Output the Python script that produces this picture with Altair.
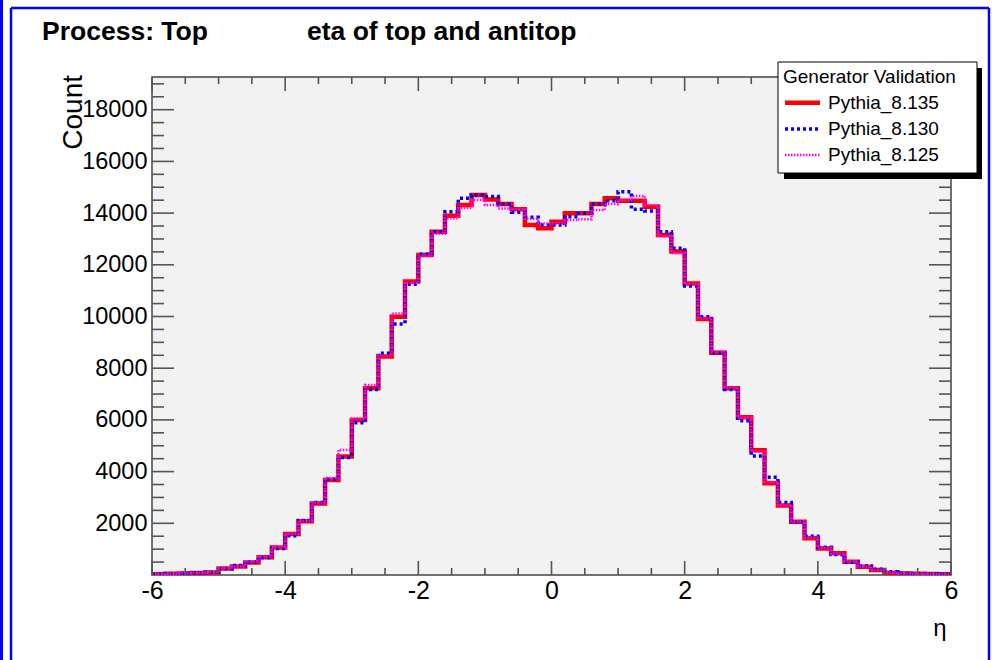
import altair as alt
import pandas as pd

# Lower edges of the 0.2-wide eta bins
bin_low = [
    -6.0, -5.8, -5.6, -5.4, -5.2, -5.0, -4.8, -4.6, -4.4, -4.2,
    -4.0, -3.8, -3.6, -3.4, -3.2, -3.0, -2.8, -2.6, -2.4, -2.2,
    -2.0, -1.8, -1.6, -1.4, -1.2, -1.0, -0.8, -0.6, -0.4, -0.2,
    0.0, 0.2, 0.4, 0.6, 0.8, 1.0, 1.2, 1.4, 1.6, 1.8,
    2.0, 2.2, 2.4, 2.6, 2.8, 3.0, 3.2, 3.4, 3.6, 3.8,
    4.0, 4.2, 4.4, 4.6, 4.8, 5.0, 5.2, 5.4, 5.6, 5.8,
]
x_max = 6.0

pythia_8135 = [
    30, 45, 60, 80, 100, 250, 330, 480, 690, 1060,
    1590, 2080, 2770, 3675, 4580, 6000, 7220, 8450, 9990, 11350,
    12380, 13280, 13900, 14310, 14700, 14530, 14350, 14150, 13540, 13410,
    13670, 13990, 13990, 14350, 14570, 14480, 14480, 14250, 13150, 12510,
    11280, 9900, 8600, 7220, 6100, 4830, 3550, 2690, 2060, 1420,
    1030, 840, 515, 320, 190, 80, 60, 45, 35, 25,
]
pythia_8130 = [
    25, 50, 70, 85, 110, 240, 370, 500, 680, 1030,
    1520, 2110, 2800, 3700, 4550, 5890, 7180, 8580, 9710, 11250,
    12420, 13280, 14050, 14570, 14700, 14640, 14350, 14030, 13840, 13540,
    13540, 13860, 13990, 14350, 14480, 14830, 14150, 14080, 13280, 12640,
    11180, 9990, 8600, 7180, 5970, 4600, 3780, 2800, 2060, 1500,
    1070, 790, 490, 350, 220, 130, 70, 50, 40, 30,
]
pythia_8125 = [
    35, 50, 65, 85, 110, 260, 340, 530, 720, 1080,
    1600, 2100, 2800, 3750, 4840, 6050, 7350, 8500, 10120, 11300,
    12350, 13200, 13800, 14200, 14510, 14310, 14180, 14150, 13780, 13600,
    13600, 13730, 13760, 14120, 14350, 14510, 14660, 14300, 13100, 12450,
    11250, 9950, 8650, 7250, 6080, 4780, 3600, 2720, 2080, 1450,
    1050, 820, 530, 330, 200, 90, 55, 45, 35, 25,
]

series_names = ["Pythia_8.135", "Pythia_8.130", "Pythia_8.125"]
series_values = [pythia_8135, pythia_8130, pythia_8125]
series_colors = ["#ff0000", "#0000ff", "#ff00ff"]
series_widths = [4.5, 3.5, 2.5]
series_dash = [[1, 0], [3, 3], [1.5, 1.5]]

x_major = [-6, -4, -2, 0, 2, 4, 6]
x_minor = [-5.5, -5, -4.5, -3.5, -3, -2.5, -1.5, -1, -0.5,
           0.5, 1, 1.5, 2.5, 3, 3.5, 4.5, 5, 5.5]
y_major = [2000, 4000, 6000, 8000, 10000, 12000, 14000, 16000, 18000]
y_minor = [500, 1000, 1500, 2500, 3000, 3500, 4500, 5000, 5500,
           6500, 7000, 7500, 8500, 9000, 9500, 10500, 11000, 11500,
           12500, 13000, 13500, 14500, 15000, 15500, 16500, 17000,
           17500, 18500, 19000]

W, H = 799, 498
FONT = "Liberation Sans"
TICK = "#555555"

xs = alt.Scale(domain=[-6, 6], nice=False, zero=False)
ys = alt.Scale(domain=[0, 19265], nice=False, zero=False)
x_axis = alt.Axis(values=x_major, title=None, ticks=False, domain=False, grid=False,
                  labelFontSize=25, labelPadding=3, labelFlush=False, labelOverlap=False,
                  labelColor="black", labelFont=FONT, labelExpr="'' + datum.value")
y_axis = alt.Axis(values=y_major, title=None, ticks=False, domain=False, grid=False,
                  labelFontSize=23.5, labelPadding=5, labelOverlap=False,
                  labelColor="black", labelFont=FONT, labelExpr="'' + datum.value")


def step_frame(values, name):
    rows = [{"eta": e, "count": v, "series": name} for e, v in zip(bin_low, values)]
    rows.append({"eta": x_max, "count": values[-1], "series": name})
    return pd.DataFrame(rows)


layers = []

# histogram outlines drawn as step lines
for name, vals, col, sw, dash in zip(series_names, series_values, series_colors,
                                      series_widths, series_dash):
    layers.append(
        alt.Chart(step_frame(vals, name))
        .mark_line(interpolate="step-after", color=col, strokeWidth=sw,
                   strokeDash=dash, clip=True)
        .encode(x=alt.X("eta:Q", scale=xs, axis=x_axis),
                y=alt.Y("count:Q", scale=ys, axis=y_axis))
    )


def x_ticks(vals, y1, y2):
    return (alt.Chart(pd.DataFrame({"v": vals}))
            .mark_rule(color=TICK, strokeWidth=1.6)
            .encode(x=alt.X("v:Q", scale=xs, axis=x_axis),
                    y=alt.value(y1), y2=alt.value(y2)))


def y_ticks(vals, x1, x2):
    return (alt.Chart(pd.DataFrame({"v": vals}))
            .mark_rule(color=TICK, strokeWidth=1.6)
            .encode(y=alt.Y("v:Q", scale=ys, axis=y_axis),
                    x=alt.value(x1), x2=alt.value(x2)))


layers += [
    x_ticks(x_major, H, H - 14), x_ticks(x_major, 0, 14),
    x_ticks(x_minor, H, H - 7), x_ticks(x_minor, 0, 7),
    y_ticks(y_major, 0, 22), y_ticks(y_major, W, W - 22),
    y_ticks(y_minor, 0, 12), y_ticks(y_minor, W, W - 12),
]

one = pd.DataFrame({"k": [0]})


def rule(x1, x2, y1, y2, color, width, dash=None):
    kw = dict(color=color, strokeWidth=width)
    if dash is not None:
        kw["strokeDash"] = dash
    return (alt.Chart(one).mark_rule(**kw)
            .encode(x=alt.value(x1), x2=alt.value(x2), y=alt.value(y1), y2=alt.value(y2)))


def label(txt, x, y, size, bold=False, align="left", baseline="alphabetic", angle=0):
    kw = dict(text=txt, font=FONT, fontSize=size, color="black", align=align,
              baseline=baseline, fontWeight="bold" if bold else "normal")
    if angle:
        kw["angle"] = angle
    return alt.Chart(one).mark_text(**kw).encode(x=alt.value(x), y=alt.value(y))


# canvas frame in blue
BLUE = "#0000ff"
layers += [
    rule(-150.5, -150.5, -77, 583, BLUE, 3),
    rule(-141, -141, -69, 583, BLUE, 2.5),
    rule(-141, 837, -69, -69, BLUE, 2.5),
    rule(837, 837, -69, 583, BLUE, 2.5),
]

# titles
layers += [
    label("Process: Top", -110, -37, 26.5, bold=True),
    label("eta of top and antitop", 155, -37, 26.5, bold=True),
    label("Count", -78, -2, 28, align="right", baseline="middle", angle=270),
    label("η", 788, 552, 24, align="center", baseline="middle"),
]

# legend box with drop shadow
layers += [
    alt.Chart(one).mark_rect(color="black").encode(
        x=alt.value(632), x2=alt.value(830), y=alt.value(-9), y2=alt.value(102)),
    alt.Chart(one).mark_rect(fill="white", stroke="black", strokeWidth=1).encode(
        x=alt.value(626), x2=alt.value(825), y=alt.value(-15), y2=alt.value(96)),
    label("Generator Validation", 631, 0, 19, baseline="middle"),
]
entry_y = [25.7, 52, 78]
for name, col, sw, dash, ey in zip(series_names, series_colors, series_widths,
                                   series_dash, entry_y):
    layers.append(rule(633, 668, ey, ey, col, sw, dash))
    layers.append(label(name, 676, ey, 19, baseline="middle"))

chart = (
    alt.layer(*layers)
    .properties(width=W, height=H, autosize=alt.AutoSizeParams(type="none"),
                padding={"left": 152, "top": 77, "right": 41, "bottom": 85},
                background="white")
    .configure_view(fill="#f2f2f2", stroke="#444444", strokeWidth=1.5)
)

chart.save("out.html", embed_options={"renderer": "svg", "actions": False})
